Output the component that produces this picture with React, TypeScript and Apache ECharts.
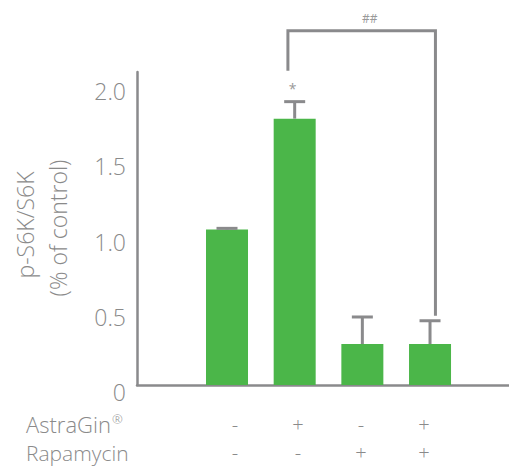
import React, { useEffect, useRef } from "react";
import * as echarts from "echarts";

const groups = ["1", "2", "3", "4"];
const means = [1.033, 1.77, 0.272, 0.272];
const errTops = [1.041, 1.883, 0.452, 0.427];
const marks = ["", "*", "", ""];
const yTicks = [0, 0.5, 1.0, 1.5, 2.0];
const astraGin = ["-", "+", "-", "+"];
const rapamycin = ["-", "-", "+", "+"];
// bracket between group 2 and group 4 (## vs AstraGin alone)
const bracketX = [1.9, 4.08];
const bracketTop = 2.354;
const bracketLeftBottom = 2.088;
const bracketRightBottom = 0.46;
const bracketLabel = "##";

const GREY = "#8a8a8c";
const TEXT = "#8a8a8a";
const FONT = "'Open Sans', 'Noto Sans', sans-serif";

export default function App() {
  const ref = useRef<HTMLDivElement>(null);
  useEffect(() => {
    const chart = echarts.init(ref.current!, null, { renderer: "svg" });
    const signX = [235, 298, 361, 424];
    const row1Y = 423.5;
    const row2Y = 452.5;
    const graphics: any[] = [];
    graphics.push({
      type: "text",
      x: 25,
      y: 225,
      rotation: Math.PI / 2,
      style: { text: "p-S6K/S6K", fill: TEXT, font: `300 23px ${FONT}`, align: "center", verticalAlign: "middle" },
    });
    graphics.push({
      type: "text",
      x: 58,
      y: 228,
      rotation: Math.PI / 2,
      style: { text: "(% of control)", fill: TEXT, font: `300 23px ${FONT}`, align: "center", verticalAlign: "middle" },
    });
    graphics.push({
      type: "text",
      x: 26,
      y: row1Y,
      style: {
        text: "AstraGin{sup|®}",
        fill: TEXT,
        font: `300 22px ${FONT}`,
        align: "left",
        verticalAlign: "middle",
        rich: { sup: { fontSize: 13, fontWeight: 300, fontFamily: FONT, fill: TEXT, verticalAlign: "bottom", padding: [0, 0, 9, 1] } },
      },
    });
    graphics.push({
      type: "text",
      x: 26,
      y: row2Y,
      style: { text: "Rapamycin", fill: TEXT, font: `300 21px ${FONT}`, align: "left", verticalAlign: "middle" },
    });
    astraGin.forEach((s, i) =>
      graphics.push({
        type: "text",
        x: signX[i],
        y: row1Y + 1,
        style: { text: s, fill: TEXT, font: `300 20px ${FONT}`, align: "center", verticalAlign: "middle" },
      })
    );
    rapamycin.forEach((s, i) =>
      graphics.push({
        type: "text",
        x: signX[i],
        y: row2Y,
        style: { text: s, fill: TEXT, font: `300 20px ${FONT}`, align: "center", verticalAlign: "middle" },
      })
    );

    chart.setOption({
      animation: false,
      grid: { left: 137, right: 0, top: 72, bottom: 82, containLabel: false },
      xAxis: {
        type: "value",
        min: -0.33,
        max: 5.167,
        axisLine: { show: true, lineStyle: { color: GREY, width: 2.5 } },
        axisTick: { show: false },
        axisLabel: { show: false },
        splitLine: { show: false },
      },
      yAxis: {
        type: "value",
        min: 0,
        max: 2.08,
        interval: 0.5,
        axisLine: { show: true, onZero: false, lineStyle: { color: GREY, width: 2.5 } },
        axisTick: { show: false },
        splitLine: { show: false },
        axisLabel: {
          color: TEXT,
          fontFamily: FONT,
          fontWeight: 300,
          fontSize: 23,
          margin: 11,
          verticalAlign: "top",
          lineHeight: 14,
          formatter: (v: number) => {
            const t = yTicks.find((k) => Math.abs(k - v) < 1e-6);
            if (t === undefined) return "";
            return t === 0 ? "0" : t.toFixed(1);
          },
        },
      },
      graphic: graphics,
      series: [
        {
          type: "bar",
          barWidth: 42,
          itemStyle: { color: "#4bb649" },
          data: groups.map((_, i) => [i + 1, means[i]]),
          z: 2,
        },
        {
          type: "custom",
          z: 3,
          data: groups.map((_, i) => [i + 1, means[i], errTops[i]]),
          renderItem: (params: any, api: any) => {
            const x = api.value(0);
            const bottom = api.coord([x, api.value(1)]);
            const top = api.coord([x, api.value(2)]);
            const half = 10.5;
            const children: any[] = [
              {
                type: "line",
                shape: { x1: top[0], y1: top[1], x2: bottom[0], y2: bottom[1] },
                style: { stroke: GREY, lineWidth: 3 },
              },
              {
                type: "line",
                shape: { x1: top[0] - half, y1: top[1], x2: top[0] + half, y2: top[1] },
                style: { stroke: GREY, lineWidth: 3 },
              },
            ];
            const m = marks[params.dataIndex];
            if (m) {
              children.push({
                type: "text",
                x: top[0] - 2,
                y: top[1] - 6,
                style: { text: m, fill: "#999", font: `14px ${FONT}`, align: "center", verticalAlign: "bottom" },
              });
            }
            return { type: "group", children };
          },
        },
        {
          type: "custom",
          z: 3,
          data: [[bracketX[0], bracketX[1], bracketTop, bracketLeftBottom, bracketRightBottom]],
          renderItem: (params: any, api: any) => {
            const lb = api.coord([api.value(0), api.value(3)]);
            const lt = api.coord([api.value(0), api.value(2)]);
            const rt = api.coord([api.value(1), api.value(2)]);
            const rb = api.coord([api.value(1), api.value(4)]);
            return {
              type: "group",
              children: [
                {
                  type: "polyline",
                  shape: { points: [lb, lt, rt, rb] },
                  style: { stroke: GREY, lineWidth: 3, fill: "none" },
                },
                {
                  type: "text",
                  x: (lt[0] + rt[0]) / 2 + 8,
                  y: lt[1] - 6,
                  style: { text: bracketLabel, fill: "#999", font: `12px ${FONT}`, align: "center", verticalAlign: "bottom" },
                },
              ],
            };
          },
        },
      ],
    });
    return () => chart.dispose();
  }, []);
  return <div ref={ref} style={{ width: 509, height: 467, position: "absolute", left: 0, top: 0 }} />;
}
